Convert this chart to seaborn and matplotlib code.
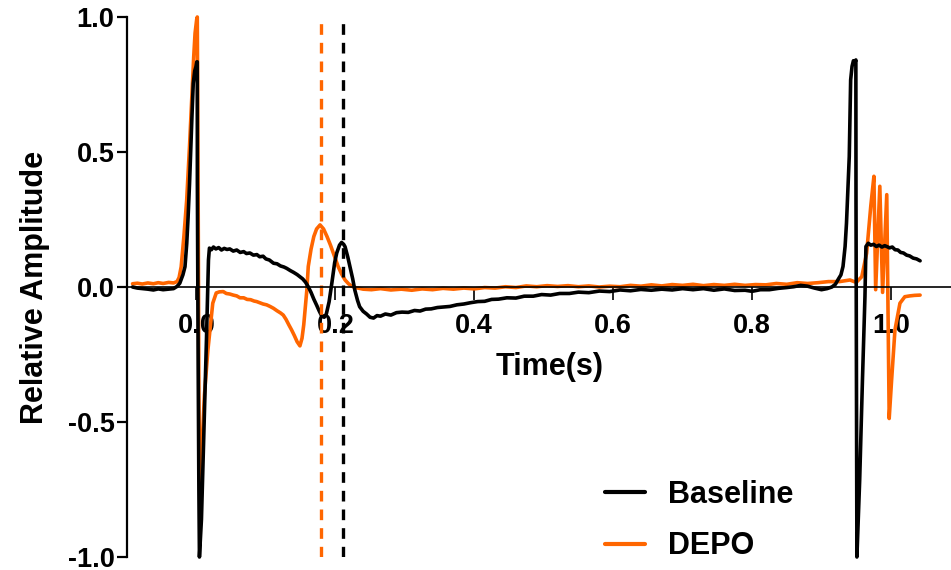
import numpy as np
import pandas as pd
import matplotlib
matplotlib.use("Agg")
import matplotlib.pyplot as plt
import seaborn as sns

# Baseline trace (time in s, relative amplitude)
baseline_t = [
    -0.092, -0.085, -0.078, -0.070, -0.062, -0.055, -0.048, -0.040, -0.033, -0.028,
    -0.024, -0.0195, -0.0165, -0.014, -0.012, -0.010, -0.0083, -0.0065, -0.0046, -0.0025,
    -0.0007, 0.0005, 0.0012, 0.0013, 0.0025, 0.0035, 0.0043, 0.0072, 0.0108, 0.0144,
    0.0173, 0.0187, 0.0215, 0.0245, 0.028, 0.032, 0.036, 0.040, 0.044, 0.048,
    0.053, 0.058, 0.063, 0.068, 0.072, 0.077, 0.082, 0.087, 0.091, 0.096,
    0.100, 0.105, 0.111, 0.116, 0.121, 0.126, 0.130, 0.135, 0.140, 0.145,
    0.149, 0.153, 0.157, 0.161, 0.165, 0.169, 0.173, 0.177, 0.1805, 0.184,
    0.187, 0.191, 0.195, 0.199, 0.202, 0.206, 0.209, 0.212, 0.214, 0.218,
    0.221, 0.225, 0.228, 0.232, 0.235, 0.240, 0.245, 0.250, 0.255, 0.260,
    0.265, 0.272, 0.280, 0.288, 0.296, 0.305, 0.314, 0.322, 0.330, 0.338,
    0.347, 0.356, 0.365, 0.375, 0.385, 0.395, 0.405, 0.415, 0.425, 0.435,
    0.447, 0.460, 0.472, 0.485, 0.497, 0.510, 0.523, 0.537, 0.550, 0.565,
    0.580, 0.595, 0.610, 0.625, 0.640, 0.655, 0.670, 0.685, 0.700, 0.715,
    0.730, 0.745, 0.760, 0.775, 0.790, 0.800, 0.812, 0.825, 0.838, 0.850,
    0.860, 0.870, 0.880, 0.890, 0.900, 0.908, 0.915, 0.920, 0.924, 0.928,
    0.931, 0.934, 0.936, 0.938, 0.940, 0.941, 0.942, 0.944, 0.946, 0.948,
    0.9495, 0.9497, 0.9505, 0.951, 0.955, 0.959, 0.9626, 0.964, 0.9674, 0.971,
    0.975, 0.979, 0.983, 0.987, 0.991, 0.994, 0.998, 1.002, 1.006, 1.010,
    1.014, 1.018, 1.0226, 1.027, 1.032, 1.037, 1.042,
]
baseline_amp = [
    0.000, -0.004, -0.006, -0.008, -0.011, -0.007, -0.010, -0.008, -0.006, 0.002,
    0.014, 0.045, 0.075, 0.160, 0.260, 0.380, 0.507, 0.630, 0.754, 0.800,
    0.816, 0.834, 0.834, 0.390, -0.300, -0.750, -1.000, -0.860, -0.530, -0.196,
    0.100, 0.144, 0.138, 0.148, 0.141, 0.146, 0.137, 0.143, 0.139, 0.141,
    0.133, 0.137, 0.128, 0.131, 0.124, 0.126, 0.118, 0.120, 0.112, 0.114,
    0.104, 0.100, 0.088, 0.086, 0.078, 0.074, 0.069, 0.061, 0.054, 0.046,
    0.038, 0.030, 0.018, 0.001, -0.020, -0.045, -0.067, -0.090, -0.108, -0.112,
    -0.100, -0.055, 0.015, 0.090, 0.126, 0.155, 0.165, 0.158, 0.149, 0.110,
    0.075, 0.030, -0.011, -0.050, -0.073, -0.090, -0.100, -0.112, -0.115, -0.106,
    -0.108, -0.100, -0.104, -0.095, -0.093, -0.094, -0.087, -0.089, -0.082, -0.081,
    -0.076, -0.074, -0.072, -0.066, -0.063, -0.058, -0.054, -0.053, -0.046, -0.045,
    -0.040, -0.041, -0.034, -0.034, -0.028, -0.030, -0.024, -0.024, -0.019, -0.021,
    -0.015, -0.017, -0.011, -0.014, -0.009, -0.012, -0.008, -0.011, -0.006, -0.010,
    -0.006, -0.012, -0.007, -0.013, -0.012, -0.016, -0.010, -0.010, -0.005, -0.002,
    0.001, 0.006, 0.003, -0.004, -0.010, -0.006, 0.000, 0.010, 0.028, 0.045,
    0.076, 0.150, 0.236, 0.360, 0.483, 0.630, 0.767, 0.817, 0.838, 0.830,
    0.841, 0.322, -0.600, -1.000, -0.715, -0.344, -0.036, 0.150, 0.162, 0.155,
    0.158, 0.150, 0.155, 0.148, 0.153, 0.150, 0.145, 0.148, 0.138, 0.137,
    0.128, 0.126, 0.118, 0.115, 0.107, 0.104, 0.097,
]

# DEPO trace
depo_t = [
    -0.092, -0.085, -0.078, -0.070, -0.062, -0.055, -0.048, -0.040, -0.033, -0.028,
    -0.025, -0.022, -0.018, -0.0141, -0.010, -0.0069, -0.004, -0.002, 0.0003, 0.0012,
    0.0025, 0.0035, 0.0050, 0.0085, 0.0115, 0.0165, 0.020, 0.0235, 0.0285, 0.033,
    0.0386, 0.043, 0.048, 0.053, 0.058, 0.0627, 0.068, 0.073, 0.078, 0.083,
    0.0867, 0.091, 0.096, 0.101, 0.106, 0.111, 0.116, 0.121, 0.125, 0.129,
    0.133, 0.137, 0.141, 0.145, 0.149, 0.152, 0.1545, 0.1565, 0.159, 0.161,
    0.165, 0.169, 0.173, 0.178, 0.183, 0.188, 0.193, 0.197, 0.204, 0.209,
    0.214, 0.219, 0.223, 0.228, 0.233, 0.240, 0.252, 0.265, 0.280, 0.295,
    0.310, 0.325, 0.340, 0.355, 0.370, 0.385, 0.400, 0.415, 0.430, 0.445,
    0.460, 0.475, 0.490, 0.505, 0.520, 0.535, 0.550, 0.565, 0.580, 0.595,
    0.610, 0.625, 0.640, 0.655, 0.670, 0.685, 0.700, 0.715, 0.730, 0.745,
    0.760, 0.775, 0.790, 0.805, 0.820, 0.835, 0.850, 0.865, 0.880, 0.895,
    0.910, 0.926, 0.941, 0.950, 0.958, 0.965, 0.971, 0.9755, 0.978, 0.984,
    0.988, 0.994, 0.9975, 1.001, 1.0058, 1.013, 1.020, 1.027, 1.034, 1.042,
]
depo_amp = [
    0.012, 0.014, 0.011, 0.015, 0.012, 0.016, 0.013, 0.017, 0.015, 0.020,
    0.035, 0.075, 0.190, 0.320, 0.520, 0.690, 0.850, 0.940, 0.990, 1.000,
    0.300, -0.400, -0.790, -0.567, -0.400, -0.233, -0.148, -0.060, -0.022, -0.018,
    -0.017, -0.024, -0.026, -0.030, -0.033, -0.040, -0.040, -0.046, -0.047, -0.052,
    -0.054, -0.058, -0.063, -0.066, -0.072, -0.079, -0.088, -0.096, -0.104, -0.120,
    -0.140, -0.159, -0.180, -0.203, -0.218, -0.190, -0.140, -0.083, -0.010, 0.076,
    0.140, 0.187, 0.215, 0.230, 0.215, 0.187, 0.155, 0.126, 0.076, 0.048,
    0.026, 0.012, 0.004, -0.002, -0.004, -0.008, -0.010, -0.006, -0.011, -0.008,
    -0.012, -0.007, -0.010, -0.005, -0.008, -0.004, -0.007, -0.002, -0.004, 0.001,
    -0.002, 0.004, 0.001, 0.005, 0.002, 0.005, 0.001, 0.004, 0.000, 0.003,
    0.001, 0.006, 0.003, 0.008, 0.004, 0.009, 0.006, 0.010, 0.005, 0.009,
    0.006, 0.010, 0.006, 0.009, 0.008, 0.013, 0.010, 0.016, 0.013, 0.016,
    0.020, 0.020, 0.026, 0.017, 0.038, 0.125, 0.300, 0.410, -0.010, 0.373,
    -0.020, 0.342, -0.487, -0.344, -0.159, -0.060, -0.036, -0.033, -0.031, -0.030,
]

# time markers (dashed verticals)
marker_t = {"DEPO": 0.180, "Baseline": 0.2105}
colors = {"Baseline": "#000000", "DEPO": "#FF6600"}

sns.set_style("white")
plt.rcParams["font.family"] = ["Liberation Sans", "DejaVu Sans"]
plt.rcParams["font.weight"] = "bold"
plt.rcParams["axes.labelweight"] = "bold"
plt.rcParams["text.color"] = "black"
plt.rcParams["axes.labelcolor"] = "black"
plt.rcParams["xtick.color"] = "black"
plt.rcParams["ytick.color"] = "black"

df = pd.concat([
    pd.DataFrame({"t": depo_t, "amp": depo_amp, "trace": "DEPO"}),
    pd.DataFrame({"t": baseline_t, "amp": baseline_amp, "trace": "Baseline"}),
], ignore_index=True)

fig = plt.figure(figsize=(9.51, 5.70), dpi=100)
ax = fig.add_axes([127 / 951, 13 / 570, 824 / 951, 540 / 570])

sns.lineplot(data=df, x="t", y="amp", hue="trace", hue_order=["DEPO", "Baseline"],
             palette=colors, estimator=None, sort=False, linewidth=2.6, ax=ax)
for ln in ax.lines:
    ln.set_clip_on(False)

for name in ["DEPO", "Baseline"]:
    ax.axvline(marker_t[name], ymin=0, ymax=1, color=colors[name], linewidth=2.4,
               linestyle=(0, (3.2, 2.4)))

ax.set_xlim(-0.1, 1.0865)
ax.set_ylim(-1.0, 1.0)

for s in ["top", "right"]:
    ax.spines[s].set_visible(False)
ax.spines["left"].set_linewidth(1.6)
ax.spines["left"].set_color("black")
ax.spines["bottom"].set_position(("data", 0))
ax.spines["bottom"].set_linewidth(1.2)
ax.spines["bottom"].set_color("black")

xt = [0.0, 0.2, 0.4, 0.6, 0.8, 1.0]
yt = [-1.0, -0.5, 0.0, 0.5, 1.0]
ax.set_xticks(xt)
ax.set_xticklabels([f"{v:.1f}" for v in xt])
ax.set_yticks(yt)
ax.set_yticklabels([f"{v:.1f}" for v in yt])
ax.tick_params(axis="x", direction="out", length=9, width=1.2, pad=10,
               labelsize=19.5, bottom=True, color="black", labelcolor="black")
ax.tick_params(axis="y", direction="out", length=7, width=1.6, pad=2,
               labelsize=19.5, left=True, color="black", labelcolor="black")
for lab in ax.get_xticklabels() + ax.get_yticklabels():
    lab.set_fontweight("bold")

ax.set_xlabel("Time(s)", fontsize=22, fontweight="bold", color="black")
ax.set_ylabel("Relative Amplitude", fontsize=22, fontweight="bold", color="black")
ax.xaxis.set_label_coords((550 - 127) / 824, (557 - 352) / 540)
ax.yaxis.set_label_coords((50 - 127) / 824, 0.5)

handles, labels = ax.get_legend_handles_labels()
order = [labels.index("Baseline"), labels.index("DEPO")]
leg = ax.legend([handles[i] for i in order], [labels[i] for i in order],
                loc="upper left", bbox_to_anchor=(605 / 951, 1 - 480 / 570),
                bbox_transform=fig.transFigure, frameon=False, fontsize=22,
                handlelength=1.3, handletextpad=0.75, labelspacing=0.7,
                borderpad=0, borderaxespad=0)
for txt in leg.get_texts():
    txt.set_fontweight("bold")
    txt.set_color("black")
for h in leg.get_lines():
    h.set_linewidth(3)

fig.savefig("out.png", dpi=100)
